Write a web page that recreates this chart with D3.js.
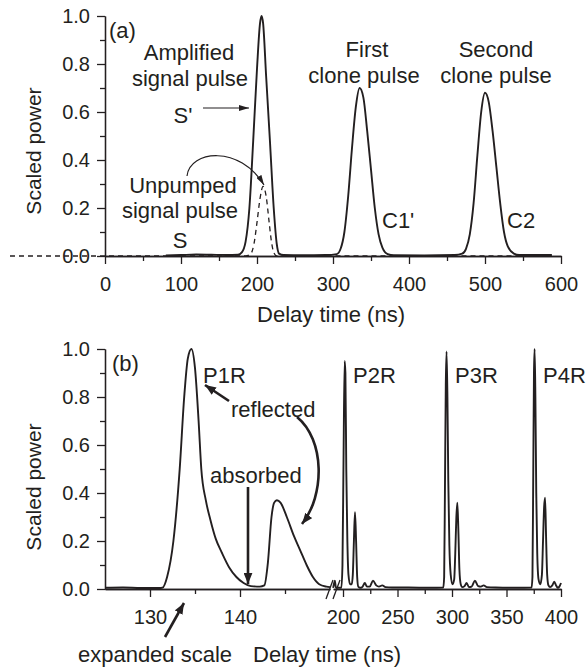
<!DOCTYPE html>
<html>
<head>
<meta charset="utf-8">
<script src="https://cdn.jsdelivr.net/npm/d3@7"></script>
<style>
  body { margin: 0; background: #fff; }
  svg text { font-family: "Liberation Sans", Arial, Helvetica, sans-serif; fill: #231f20; }
</style>
</head>
<body>
<svg id="chart" width="586" height="671"></svg>
<script>
(function () {
    "use strict";

    // ---- data (delay time in ns, scaled power) ----
    // panel (a): amplified signal S' and clones C1', C2 (solid)
    var pulsesSolid = [
        [80, 0.002], [100, 0.004], [120, 0.006], [140, 0.005], [160, 0.004], [175, 0.005],
        [180, 0.015], [185, 0.06], [190, 0.2], [195, 0.48], [200, 0.78], [204, 0.97],
        [206, 1.0], [208, 0.97], [212, 0.75], [217, 0.48], [222, 0.2], [226, 0.05],
        [229, 0.01], [235, 0.004], [260, 0.003], [290, 0.004], [305, 0.008], [310, 0.03],
        [315, 0.1], [320, 0.25], [325, 0.45], [330, 0.62], [335, 0.70], [340, 0.66],
        [345, 0.52], [350, 0.36], [355, 0.2], [360, 0.09], [365, 0.035], [372, 0.008],
        [380, 0.003], [420, 0.002], [460, 0.004], [470, 0.01], [475, 0.03], [480, 0.09],
        [485, 0.22], [490, 0.42], [495, 0.6], [500, 0.68], [505, 0.64], [510, 0.52],
        [515, 0.37], [520, 0.22], [525, 0.1], [530, 0.04], [538, 0.01], [545, 0.004],
        [588, 0.004]
    ];
    // panel (a): unpumped signal S (dashed)
    var pulsesDashed = [
        [-125, 0], [185, 0], [192, 0.01], [196, 0.05], [200, 0.14], [204, 0.24],
        [208, 0.29], [212, 0.25], [216, 0.14], [219, 0.06], [222, 0.015], [226, 0], [588, 0]
    ];
    // panel (b): expanded scale, P1R and absorbed/reflected part
    var reflNear = [
        [125, 0.005], [127, 0.006], [129, 0.004], [131, 0.004], [131.4, 0.006], [131.9, 0.05],
        [132.6, 0.2], [133.3, 0.5], [133.8, 0.8], [134.2, 0.96], [134.6, 1.0], [135, 0.92],
        [135.4, 0.7], [135.7, 0.5], [136.2, 0.37], [136.7, 0.29], [137.3, 0.21], [138, 0.15],
        [138.8, 0.09], [139.6, 0.05], [140.4, 0.025], [141.2, 0.012], [142.2, 0.01],
        [142.7, 0.015], [143.1, 0.11], [143.5, 0.30], [143.8, 0.36], [144.1, 0.37],
        [144.5, 0.36], [145.2, 0.30], [146, 0.22], [146.7, 0.16], [147.4, 0.1], [148.1, 0.05],
        [148.8, 0.02], [149.6, 0.01], [150, 0.008]
    ];
    // panel (b): P2R, P3R, P4R
    var reflFar = [
        [191, 0.005], [192.5, 0.035], [193.5, 0.005], [198.5, 0.005], [199.5, 0.1],
        [200.5, 0.55], [201.5, 0.95], [202.2, 0.9], [203, 0.5], [204, 0.2], [205, 0.06],
        [206.5, 0.02], [208, 0.02], [209, 0.06], [210, 0.2], [211, 0.32], [212, 0.2],
        [213, 0.05], [214, 0.01], [216, 0.005], [218, 0.01], [220, 0.025], [222, 0.01],
        [224.5, 0.01], [227.5, 0.035], [230.5, 0.015], [233, 0.01], [236, 0.015], [239, 0.008],
        [245, 0.006], [260, 0.006], [280, 0.005], [292, 0.006],
        [292.8, 0.05], [293.5, 0.4], [294.3, 0.85], [295, 0.99], [295.8, 0.8], [296.6, 0.45],
        [297.6, 0.18], [298.8, 0.06], [300.5, 0.02], [302, 0.04], [303, 0.15], [304, 0.3],
        [304.9, 0.36], [305.8, 0.25], [306.8, 0.08], [308, 0.02], [309.5, 0.008],
        [311.5, 0.012], [313.4, 0.025], [315.5, 0.008], [318, 0.01], [321, 0.035],
        [324, 0.012], [326.5, 0.01], [329, 0.015], [332, 0.008], [340, 0.006], [360, 0.005],
        [373, 0.006],
        [373.8, 0.05], [374.5, 0.45], [375.2, 0.9], [375.8, 1.0], [376.5, 0.8], [377.3, 0.4],
        [378.2, 0.15], [379.4, 0.04], [381, 0.02], [382.5, 0.06], [383.5, 0.2], [384.5, 0.34],
        [385.4, 0.38], [386.3, 0.22], [387.3, 0.06], [388.5, 0.015], [390, 0.008],
        [392, 0.015], [393.8, 0.03], [395.5, 0.015], [397, 0.005], [398.5, 0.01], [400, 0.025]
    ];

    // ticks
    var powerTicks = [0, 0.2, 0.4, 0.6, 0.8, 1.0];
    var powerMinor = [0.1, 0.3, 0.5, 0.7, 0.9];
    var delayTicks = [0, 100, 200, 300, 400, 500, 600];
    var delayMinor = [50, 150, 250, 350, 450, 550];
    var nearTicks = [130, 140];
    var nearMinor = [135, 145];
    var farTicks = [200, 250, 300, 350, 400];
    var farMinor = [225, 275, 325, 375];

    var ink = "#231f20";
    var svg = d3.select("#chart");

    var defs = svg.append("defs");
    defs.append("marker")
        .attr("id", "headThin")
        .attr("viewBox", "0 0 10 6")
        .attr("refX", 10).attr("refY", 3)
        .attr("markerWidth", 10).attr("markerHeight", 6)
        .attr("markerUnits", "userSpaceOnUse")
        .attr("orient", "auto")
        .append("path").attr("d", "M0,0L10,3L0,6Z").attr("fill", ink);
    defs.append("marker")
        .attr("id", "headThick")
        .attr("viewBox", "0 0 10 8")
        .attr("refX", 10).attr("refY", 4)
        .attr("markerWidth", 11).attr("markerHeight", 9)
        .attr("markerUnits", "userSpaceOnUse")
        .attr("orient", "auto")
        .append("path").attr("d", "M0,0L10,4L0,8Z").attr("fill", ink);

    function styleAxis(g, size) {
        g.attr("font-size", size)
            .attr("font-family", "'Liberation Sans', Arial, Helvetica, sans-serif");
        g.selectAll("path, line").attr("stroke", ink).attr("stroke-width", 1.3);
        g.selectAll("text").attr("fill", ink);
    }

    function drawYAxis(y) {
        svg.append("g")
            .attr("transform", "translate(105,0)")
            .call(d3.axisLeft(y).tickValues(powerMinor).tickSize(5).tickSizeOuter(0).tickFormat(""))
            .call(styleAxis, 20);
        svg.append("g")
            .attr("transform", "translate(105,0)")
            .call(d3.axisLeft(y).tickValues(powerTicks).tickSize(8).tickSizeOuter(0)
                .tickPadding(7).tickFormat(d3.format(".1f")))
            .call(styleAxis, 20);
    }

    function drawXAxis(x, ty, major, minor) {
        svg.append("g")
            .attr("transform", "translate(0," + ty + ")")
            .call(d3.axisBottom(x).tickValues(minor).tickSize(5).tickSizeOuter(0).tickFormat(""))
            .call(styleAxis, 20);
        svg.append("g")
            .attr("transform", "translate(0," + ty + ")")
            .call(d3.axisBottom(x).tickValues(major).tickSize(8).tickSizeOuter(0).tickPadding(13))
            .call(styleAxis, 20);
    }

    function addText(x, y, str, anchor) {
        return svg.append("text")
            .attr("x", x).attr("y", y)
            .attr("text-anchor", anchor || "middle")
            .attr("font-size", 22)
            .text(str);
    }

    // ================= panel (a) =================
    var xa = d3.scaleLinear().domain([0, 600]).range([105, 561]);
    var ya = d3.scaleLinear().domain([0, 1]).range([256, 16]);

    var lineA = d3.line()
        .x(function (d) { return xa(d[0]); })
        .y(function (d) { return ya(d[1]); })
        .curve(d3.curveMonotoneX);

    drawYAxis(ya);
    drawXAxis(xa, 256, delayTicks, delayMinor);

    svg.append("path")
        .datum(pulsesDashed)
        .attr("d", lineA)
        .attr("fill", "none")
        .attr("stroke", ink)
        .attr("stroke-width", 1.3)
        .attr("stroke-dasharray", "5,4");

    svg.append("path")
        .datum(pulsesSolid)
        .attr("d", lineA)
        .attr("fill", "none")
        .attr("stroke", ink)
        .attr("stroke-width", 1.9);

    svg.append("text")
        .attr("transform", "translate(41,151) rotate(-90)")
        .attr("text-anchor", "middle")
        .attr("font-size", 21)
        .text("Scaled power");
    addText(331, 322, "Delay time (ns)");

    addText(109, 38, "(a)", "start");
    addText(189, 60, "Amplified");
    addText(190, 86, "signal pulse");
    addText(183, 123, "S'");
    addText(183, 193, "Unpumped");
    addText(180, 218, "signal pulse");
    addText(180, 248, "S");
    addText(367, 57, "First");
    addText(364, 83, "clone pulse");
    addText(496, 57, "Second");
    addText(496, 83, "clone pulse");
    addText(382, 228, "C1'", "start");
    addText(507, 228, "C2", "start");

    svg.append("line")
        .attr("x1", 203).attr("y1", 108).attr("x2", 249).attr("y2", 108)
        .attr("stroke", ink).attr("stroke-width", 1.2)
        .attr("marker-end", "url(#headThin)");
    svg.append("path")
        .attr("d", "M187,176 C190,150 240,145 264,185")
        .attr("fill", "none")
        .attr("stroke", ink).attr("stroke-width", 1.2)
        .attr("marker-end", "url(#headThin)");

    // ================= panel (b) =================
    var yb = d3.scaleLinear().domain([0, 1]).range([589, 349]);
    var xNear = d3.scaleLinear().domain([125, 150]).range([105, 330]);
    var xFar = d3.scaleLinear().domain([191, 400]).range([333.2, 561]);

    drawYAxis(yb);
    drawXAxis(xNear, 589, nearTicks, nearMinor);
    drawXAxis(xFar, 589, farTicks, farMinor);

    // axis break marks
    [326, 333].forEach(function (bx) {
        svg.append("line")
            .attr("x1", bx).attr("y1", 599).attr("x2", bx + 7).attr("y2", 580)
            .attr("stroke", ink).attr("stroke-width", 1.3);
    });

    svg.append("path")
        .datum(reflNear)
        .attr("d", d3.line()
            .x(function (d) { return xNear(d[0]); })
            .y(function (d) { return yb(d[1]); })
            .curve(d3.curveMonotoneX))
        .attr("fill", "none")
        .attr("stroke", ink)
        .attr("stroke-width", 1.9);

    svg.append("path")
        .datum(reflFar)
        .attr("d", d3.line()
            .x(function (d) { return xFar(d[0]); })
            .y(function (d) { return yb(d[1]); })
            .curve(d3.curveMonotoneX))
        .attr("fill", "none")
        .attr("stroke", ink)
        .attr("stroke-width", 1.9);

    svg.append("text")
        .attr("transform", "translate(41,487) rotate(-90)")
        .attr("text-anchor", "middle")
        .attr("font-size", 21)
        .text("Scaled power");
    addText(327, 662, "Delay time (ns)");
    addText(155, 662, "expanded scale");

    addText(112, 371, "(b)", "start");
    addText(203, 383, "P1R", "start");
    addText(231, 417, "reflected", "start");
    addText(210, 483, "absorbed", "start");
    addText(353, 383, "P2R", "start");
    addText(455, 383, "P3R", "start");
    addText(543, 383, "P4R", "start");

    function thickArrow(d) {
        svg.append("path")
            .attr("d", d)
            .attr("fill", "none")
            .attr("stroke", ink)
            .attr("stroke-width", 2.6)
            .attr("marker-end", "url(#headThick)");
    }
    thickArrow("M229,401 L205,385");
    thickArrow("M248,487 L248,584");
    thickArrow("M297,417 C325,440 325,495 302,524");
    thickArrow("M165,637 L184,603");
})();
</script>
</body>
</html>
